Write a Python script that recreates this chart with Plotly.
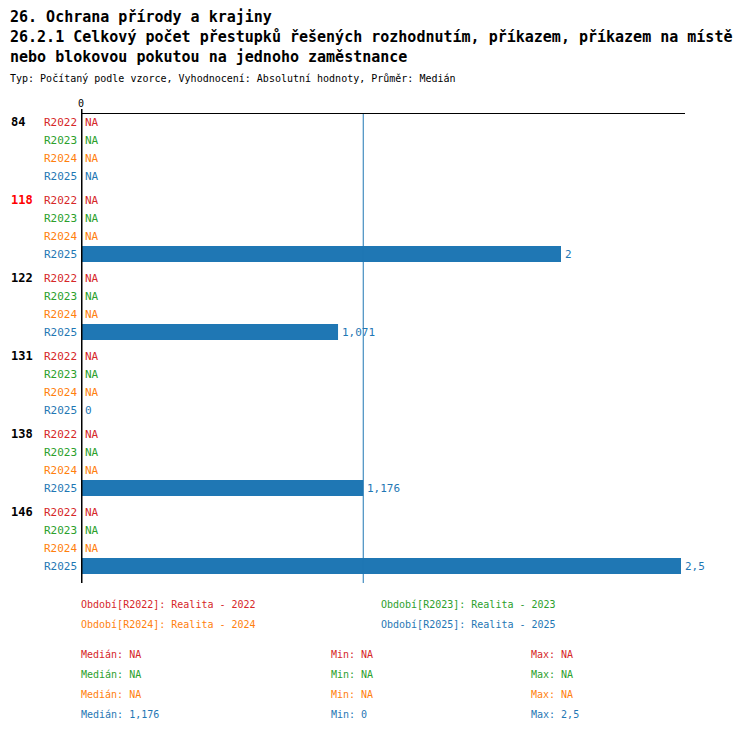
import numpy as np
import plotly.graph_objs as go

# ===============================================================
# Data
# ===============================================================

groups = ["84", "118", "122", "131", "138", "146"]
highlighted_group = "118"
periods = ["R2022", "R2023", "R2024", "R2025"]
period_names = [
    "Období[R2022]: Realita - 2022",
    "Období[R2023]: Realita - 2023",
    "Období[R2024]: Realita - 2024",
    "Období[R2025]: Realita - 2025",
]
period_colors = ["#d62728", "#2ca02c", "#ff7f0e", "#1f77b4"]

r2022 = [None, None, None, None, None, None]
r2023 = [None, None, None, None, None, None]
r2024 = [None, None, None, None, None, None]
r2025 = [None, 2, 1.071, 0, 1.176, 2.5]
series = [r2022, r2023, r2024, r2025]

title_1 = "26. Ochrana přírody a krajiny"
title_2 = "26.2.1 Celkový počet přestupků řešených rozhodnutím, příkazem, příkazem na místě"
title_3 = "nebo blokovou pokutou na jednoho zaměstnance"
subtitle = "Typ: Počítaný podle vzorce, Vyhodnocení: Absolutní hodnoty, Průměr: Medián"

# ===============================================================
# Layout helpers (screen pixel -> paper)
# ===============================================================

OFF = 8  # page body margin
W, H = 750 - OFF, 732 - OFF
L, R, T, B = 81 - OFF, 65, 114 - OFF, 149
PW = W - L - R
PH = H - T - B
ROW = 18
GAP = 6
FONT = "DejaVu Sans Mono"


def px(x):
    return (x - OFF - L) / PW


def py(y):
    return (OFF + T + PH - y) / PH


def fmt(v):
    if v is None:
        return "NA"
    return f"{v:g}".replace(".", ",")


def row_pos(g, i):
    return g * (len(periods) * ROW + GAP) + i * ROW


def stats(values):
    vals = [v for v in values if v is not None]
    if not vals:
        return None, None, None
    return float(np.median(vals)), min(vals), max(vals)


fig = go.Figure()
annotations = []

for i, (period, color, values) in enumerate(zip(periods, period_colors, series)):
    ys = [row_pos(g, i) for g in range(len(groups))]
    fig.add_trace(
        go.Bar(
            x=values,
            y=ys,
            orientation="h",
            width=16,
            marker=dict(color=color, line=dict(width=0)),
            name=period,
            showlegend=False,
            hoverinfo="skip",
        )
    )
    for g, v in enumerate(values):
        # period label left of the axis
        annotations.append(
            dict(
                x=0, y=ys[g], xref="x", yref="y", text=period,
                xanchor="right", yanchor="middle", xshift=-2, showarrow=False,
                font=dict(family=FONT, size=11, color=color),
            )
        )
        # value label
        annotations.append(
            dict(
                x=v if v is not None else 0, y=ys[g], xref="x", yref="y",
                text=fmt(v), xanchor="left", yanchor="middle", xshift=2,
                showarrow=False, font=dict(family=FONT, size=11, color=color),
            )
        )

# group labels
for g, name in enumerate(groups):
    annotations.append(
        dict(
            x=px(9), y=row_pos(g, 0), xref="paper", yref="y",
            text=f"<b>{name}</b>", xanchor="left", yanchor="middle",
            showarrow=False,
            font=dict(
                family=FONT, size=12,
                color="#ff0000" if name == highlighted_group else "black",
            ),
        )
    )

# titles (kept inside the figure, which starts at the page margin)
for text, y, size, bold in [
    (title_1, 17, 15, True),
    (title_2, 37, 15, True),
    (title_3, 57, 15, True),
    (subtitle, 78, 10, False),
]:
    annotations.append(
        dict(
            x=px(OFF), y=py(y), xref="paper", yref="paper",
            text=f"<b>{text}</b>" if bold else text,
            xanchor="left", yanchor="middle", showarrow=False,
            font=dict(family=FONT, size=size, color="black"),
        )
    )

# legend of periods
legend_pos = [(79, 604), (379, 604), (79, 624), (379, 624)]
for (x, y), text, color in zip(legend_pos, period_names, period_colors):
    annotations.append(
        dict(
            x=px(x), y=py(y), xref="paper", yref="paper", text=text,
            xanchor="left", yanchor="middle", showarrow=False,
            font=dict(family=FONT, size=10, color=color),
        )
    )

# statistics
for i, (values, color) in enumerate(zip(series, period_colors)):
    med, mn, mx = stats(values)
    y = 654 + i * 20
    for x, label, v in [(79, "Medián", med), (329, "Min", mn), (529, "Max", mx)]:
        annotations.append(
            dict(
                x=px(x), y=py(y), xref="paper", yref="paper",
                text=f"{label}: {fmt(v)}", xanchor="left", yanchor="middle",
                showarrow=False, font=dict(family=FONT, size=10, color=color),
            )
        )

median_all, _, _ = stats(r2025)

# zero line and median line
fig.add_shape(
    type="line", xref="x", yref="paper", x0=0, x1=0, y0=0, y1=1 + 5 / PH,
    line=dict(color="black", width=3),
)
fig.add_shape(
    type="line", xref="x", yref="paper", x0=median_all, x1=median_all,
    y0=0, y1=1, line=dict(color="#1f77b4", width=1),
)

fig.update_xaxes(
    range=[0, PW / 240],
    side="top",
    showline=True,
    linecolor="black",
    linewidth=1,
    mirror=False,
    showgrid=False,
    zeroline=False,
    tickvals=[0],
    ticktext=["0"],
    ticks="",
    ticklabelstandoff=2,
    tickfont=dict(family=FONT, size=10, color="black"),
)
fig.update_yaxes(
    range=[row_pos(len(groups) - 1, len(periods) - 1) + 17, -8],
    showgrid=False,
    zeroline=False,
    showticklabels=False,
    showline=False,
)

fig.update_layout(
    width=W,
    height=H,
    margin=dict(l=L, r=R, t=T, b=B, pad=0),
    plot_bgcolor="white",
    paper_bgcolor="white",
    barmode="overlay",
    annotations=annotations,
    font=dict(family=FONT),
)

fig.write_html("out.html")
